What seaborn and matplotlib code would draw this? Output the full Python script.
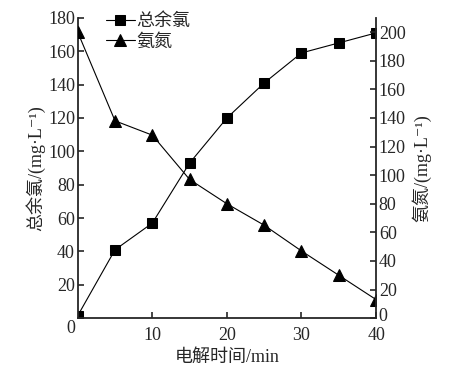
import numpy as np
import pandas as pd
import matplotlib
matplotlib.use("Agg")
import matplotlib.pyplot as plt
import matplotlib.transforms as mtransforms
import seaborn as sns

# --- data ---
time_min = [0, 5, 10, 15, 20, 25, 30, 35, 40]
total_cl = [1.5, 41, 57, 93, 120, 141, 159, 165, 171]     # 总余氯, left axis
ammonia = [200, 138, 128, 97, 80, 65, 47, 30, 13]          # 氨氮, right axis

x_ticks = [10, 20, 30, 40]
left_ticks = list(range(0, 181, 20))
right_ticks = list(range(0, 201, 20))

sns.set_style("ticks")
plt.rcParams["font.family"] = ["Liberation Serif", "Noto Sans CJK SC", "DejaVu Sans"]
plt.rcParams["axes.linewidth"] = 1.3
plt.rcParams["xtick.direction"] = "in"
plt.rcParams["ytick.direction"] = "in"

df = pd.DataFrame({"t": time_min, "cl": total_cl, "nh": ammonia})

fig, ax = plt.subplots(figsize=(4.52, 3.73), dpi=100)
fig.subplots_adjust(left=0.172, right=0.832, top=0.952, bottom=0.147)
ax2 = ax.twinx()

sns.lineplot(data=df, x="t", y="cl", ax=ax, color="black", lw=0.8,
             marker="s", markersize=7, markeredgecolor="black", label="总余氯",
             legend=False)
sns.lineplot(data=df, x="t", y="nh", ax=ax2, color="black", lw=0.8,
             marker="^", markersize=8, markeredgecolor="black", label="氨氮",
             legend=False)

ax.set_xlim(0, 40)
ax.set_ylim(0, 180)
ax2.set_ylim(0, 210)
ax.set_xticks(x_ticks)
ax.set_yticks(left_ticks)
ax2.set_yticks(right_ticks)

for a in (ax, ax2):
    a.tick_params(labelsize=13, length=4, width=1.2, pad=2)
    a.spines["top"].set_visible(False)
ax.tick_params(axis="x", pad=6)
ax.spines["right"].set_visible(False)
ax2.spines["left"].set_visible(False)
ax2.spines["bottom"].set_visible(False)
ax2.spines["right"].set_visible(True)

# nudge the two "0" labels like the original (left one drops, right one lifts)
fig.canvas.draw()
ax.get_yticklabels()[0].set_transform(
    ax.get_yticklabels()[0].get_transform()
    + mtransforms.ScaledTranslation(0, -6 / 72, fig.dpi_scale_trans))
ax2.get_yticklabels()[0].set_transform(
    ax2.get_yticklabels()[0].get_transform()
    + mtransforms.ScaledTranslation(0, 3 / 72, fig.dpi_scale_trans))

ax.set_xlabel("电解时间/min", fontsize=13, labelpad=4)
ax.set_ylabel("总余氯/(mg·L⁻¹)", fontsize=13, labelpad=2)
ax2.set_ylabel("氨氮/(mg·L⁻¹)", fontsize=13, labelpad=4)

h1, l1 = ax.get_legend_handles_labels()
h2, l2 = ax2.get_legend_handles_labels()
ax.legend(h1 + h2, l1 + l2, loc="upper left", bbox_to_anchor=(0.07, 1.04),
          frameon=False, fontsize=13, handlelength=1.6, handletextpad=0.1,
          labelspacing=0.2, borderaxespad=0)

fig.savefig("out.png", dpi=100)
